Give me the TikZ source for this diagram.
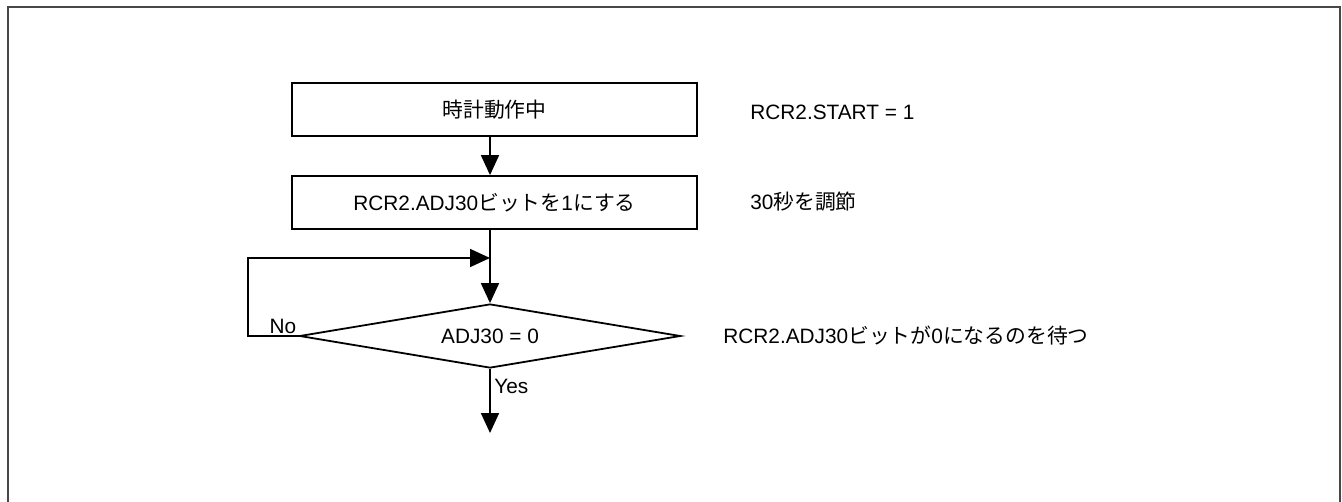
\documentclass[tikz,border=0pt]{standalone}
\usepackage{fontspec}
\setmainfont{Liberation Sans}
\newfontfamily\jp{Noto Sans CJK JP}
\usetikzlibrary{arrows.meta,shapes.geometric}

\begin{document}
\begin{tikzpicture}[x=0.5pt,y=-0.5pt,>={Triangle[length=10pt,width=9pt]},
  every node/.style={font=\fontsize{10.4pt}{12pt}\selectfont},
  proc/.style={draw,line width=0.9pt,minimum width=202.5pt,minimum height=26.5pt,inner sep=0pt},
  cond/.style={draw,diamond,aspect=5.95,line width=0.9pt,minimum width=190.5pt,minimum height=32pt,inner sep=0pt},
  flow/.style={line width=0.9pt},
  note/.style={anchor=base west,inner sep=0pt}]
  \useasboundingbox (0,0) rectangle (1342,502);
  % outer frame, open at the bottom
  \draw[line width=1pt,black!72] (7.5,506) -- (7.5,7.5) -- (1339.5,7.5) -- (1339.5,506);

  \node[proc] (run) at (494.5,109.5) {{\jp 時計動作中}};
  \node[proc] (set) at (494.5,202.5) {RCR2.ADJ30{\jp ビットを}1{\jp にする}};
  \node[cond] (chk) at (490,336) {ADJ30 = 0};
  \coordinate (merge) at (490,258);
  \coordinate (back) at (248,258);
  \coordinate (out) at (490,433);

  \draw[flow,->] (run.south -| chk) -- (set.north -| chk);
  \draw[flow] (set.south -| chk) -- (merge);
  \draw[flow,->] (merge) -- (chk.north);
  \draw[flow,->] (chk.west) -- (chk.west -| back) -- (back) -- (merge);
  \draw[flow,->] (chk.south) -- (out);
  \node (no) at (283,326) {No};
  \node[anchor=west,inner sep=0pt] (yes) at (494,386) {Yes};

  % comments on the right
  \node[note] (n1) at (750,120) {RCR2.START = 1};
  \node[note] (n2) at (750,210) {30{\jp 秒を調節}};
  \node[note] (n3) at (723,343) {RCR2.ADJ30{\jp ビットが}0{\jp になるのを待つ}};
\end{tikzpicture}
\end{document}
